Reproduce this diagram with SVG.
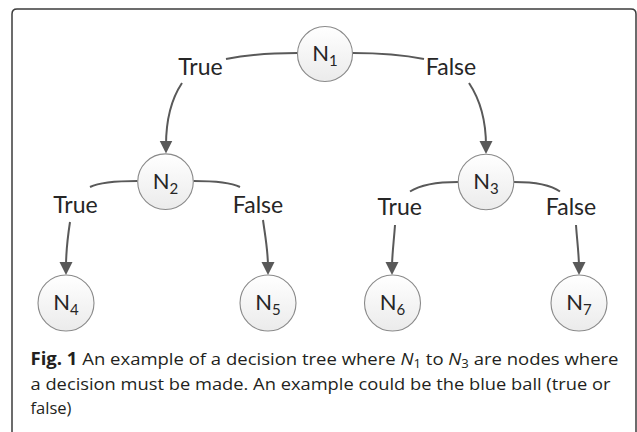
<svg xmlns="http://www.w3.org/2000/svg" width="637" height="432" viewBox="0 0 637 432">
<defs>
  <linearGradient id="nodeFill" x1="0" y1="0" x2="0" y2="1">
    <stop offset="0" stop-color="#ffffff"/>
    <stop offset="1" stop-color="#ebebeb"/>
  </linearGradient>
  <marker id="arrow" markerUnits="userSpaceOnUse" markerWidth="14" markerHeight="14" refX="5" refY="6.5" orient="auto">
    <path d="M0,0 L13,6.5 L0,13 Z" fill="#595959"/>
  </marker>
  <style>
    .frame { fill: none; stroke: #3c3c3c; stroke-width: 1.5; }
    .node circle { fill: url(#nodeFill); stroke: #8a8a8a; stroke-width: 1.1; }
    .node text { font-family: Lato, "Open Sans", sans-serif; font-size: 22px; fill: #262626; text-anchor: middle; }
    .sub { font-size: 15px; }
    .conn { fill: none; stroke: #595959; stroke-width: 2; }
    .lbl { font-family: Lato, "Open Sans", sans-serif; font-size: 23px; fill: #262626; text-anchor: middle; }
    .cap { font-family: "Open Sans", "Noto Sans", sans-serif; font-size: 17px; fill: #231f20; }
    .capsub { font-size: 12px; }
  </style>
</defs>
<rect x="0" y="0" width="637" height="432" fill="#ffffff"/>
<path class="frame" d="M12,432 L12,14 Q12,9 17,9 L631,9 Q636,9 636,14 L636,432"/>

<g id="connectors">
  <path id="e-n1-n2" class="conn" marker-end="url(#arrow)" d="M297.5,53 C272,53 246,55 226,59 M182,83 C172,98 166,118 166,145.5"/>
  <path id="e-n1-n3" class="conn" marker-end="url(#arrow)" d="M352.5,53 C378,53 404,55 424,59 M469,83 C479,98 486,118 486,146"/>
  <path id="e-n2-n4" class="conn" marker-end="url(#arrow)" d="M137.5,181 C115,181 98,183 90,187 M70,222 C68,235 66,250 66,267"/>
  <path id="e-n2-n5" class="conn" marker-end="url(#arrow)" d="M193.5,181 C215,181 232,183 240,187 M263,220 C265,235 268,250 268,267"/>
  <path id="e-n3-n6" class="conn" marker-end="url(#arrow)" d="M458,182 C436,182 420,185 410,191.5 M395,225 C394,240 392,255 392,267"/>
  <path id="e-n3-n7" class="conn" marker-end="url(#arrow)" d="M514,182 C535,182 551,185 560,191.5 M576,225 C577,240 579,255 579,267"/>
  <text class="lbl" x="200.5" y="75">True</text>
  <text class="lbl" x="451" y="75">False</text>
  <text class="lbl" x="75.5" y="212.7">True</text>
  <text class="lbl" x="258" y="212.7">False</text>
  <text class="lbl" x="399.7" y="215">True</text>
  <text class="lbl" x="571" y="215">False</text>
</g>

<g id="n1" class="node">
  <circle cx="325" cy="54" r="27.5"/>
  <text x="325" y="61">N<tspan class="sub" dy="5">1</tspan></text>
</g>
<g id="n2" class="node">
  <circle cx="165.5" cy="181.7" r="27.8"/>
  <text x="165.5" y="188.7">N<tspan class="sub" dy="5">2</tspan></text>
</g>
<g id="n3" class="node">
  <circle cx="486" cy="182" r="27.8"/>
  <text x="486" y="189">N<tspan class="sub" dy="5">3</tspan></text>
</g>
<g id="n4" class="node">
  <circle cx="66" cy="303" r="28"/>
  <text x="66" y="310">N<tspan class="sub" dy="5">4</tspan></text>
</g>
<g id="n5" class="node">
  <circle cx="268" cy="303" r="28"/>
  <text x="268" y="310">N<tspan class="sub" dy="5">5</tspan></text>
</g>
<g id="n6" class="node">
  <circle cx="392.5" cy="303" r="28"/>
  <text x="392.5" y="310">N<tspan class="sub" dy="5">6</tspan></text>
</g>
<g id="n7" class="node">
  <circle cx="579" cy="303" r="28"/>
  <text x="579" y="310">N<tspan class="sub" dy="5">7</tspan></text>
</g>

<g id="caption">
  <text class="cap" x="30.5" y="364.5" textLength="588" lengthAdjust="spacingAndGlyphs"><tspan font-weight="bold">Fig. 1</tspan> An example of a decision tree where <tspan font-style="italic">N</tspan><tspan class="capsub" dy="3">1</tspan><tspan dy="-3"> to </tspan><tspan font-style="italic">N</tspan><tspan class="capsub" dy="3">3</tspan><tspan dy="-3"> are nodes where</tspan></text>
  <text class="cap" x="30.5" y="389.5" textLength="580" lengthAdjust="spacingAndGlyphs">a decision must be made. An example could be the blue ball (true or</text>
  <text class="cap" x="30.5" y="414" textLength="41" lengthAdjust="spacingAndGlyphs">false)</text>
</g>
</svg>
